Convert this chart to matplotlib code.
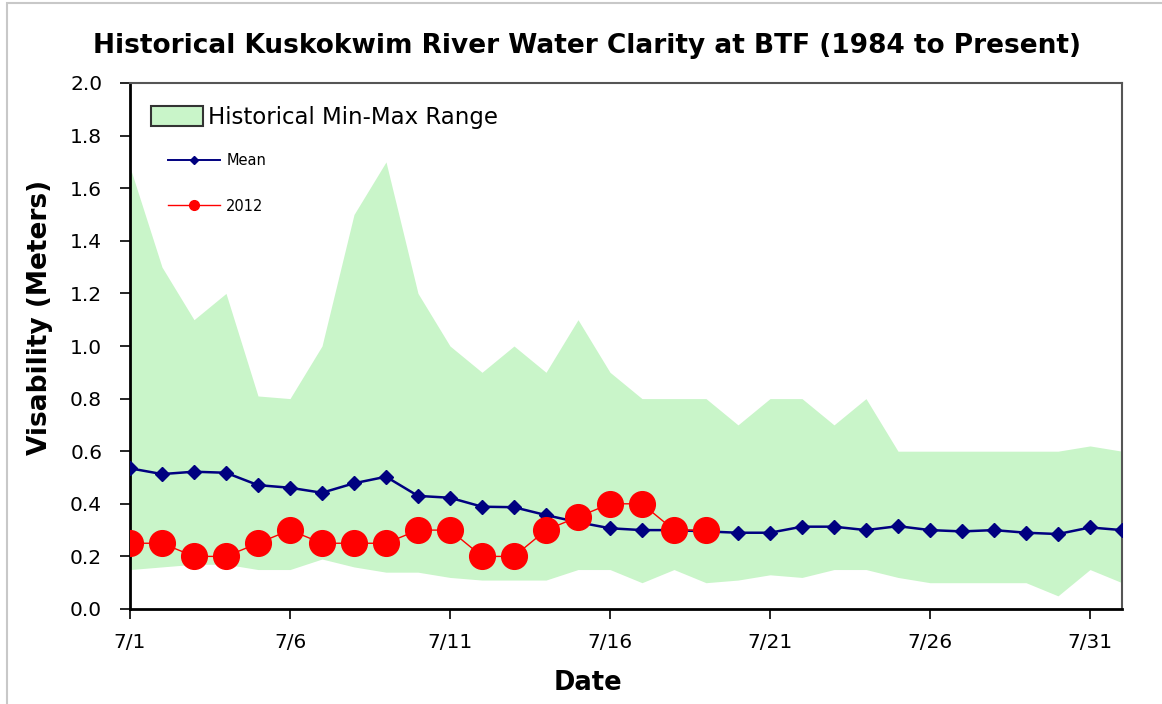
import matplotlib
matplotlib.use("Agg")
import matplotlib.pyplot as plt
from matplotlib.patches import Patch, Rectangle
from matplotlib.lines import Line2D
import numpy as np

dates = ["7/%d" % d for d in range(1, 32)] + ["8/1"]
hist_max = [1.68, 1.30, 1.10, 1.20, 0.81, 0.80, 1.00, 1.50, 1.70, 1.20, 1.00, 0.90,
            1.00, 0.90, 1.10, 0.90, 0.80, 0.80, 0.80, 0.70, 0.80, 0.80, 0.70, 0.80,
            0.60, 0.60, 0.60, 0.60, 0.60, 0.60, 0.62, 0.60]
hist_min = [0.15, 0.16, 0.17, 0.17, 0.15, 0.15, 0.19, 0.16, 0.14, 0.14, 0.12, 0.11,
            0.11, 0.11, 0.15, 0.15, 0.10, 0.15, 0.10, 0.11, 0.13, 0.12, 0.15, 0.15,
            0.12, 0.10, 0.10, 0.10, 0.10, 0.05, 0.15, 0.10]
mean_vals = [0.535, 0.513, 0.522, 0.518, 0.471, 0.461, 0.442, 0.478, 0.503, 0.430,
             0.423, 0.389, 0.387, 0.357, 0.330, 0.307, 0.300, 0.300, 0.295, 0.290,
             0.290, 0.313, 0.313, 0.300, 0.315, 0.300, 0.295, 0.300, 0.290, 0.285,
             0.310, 0.300]
y2012 = [0.25, 0.25, 0.20, 0.20, 0.25, 0.30, 0.25, 0.25, 0.25, 0.30, 0.30, 0.20,
         0.20, 0.30, 0.35, 0.40, 0.40, 0.30, 0.30]
tick_labels = ["7/1", "7/6", "7/11", "7/16", "7/21", "7/26", "7/31"]
y_ticks = [0.0, 0.2, 0.4, 0.6, 0.8, 1.0, 1.2, 1.4, 1.6, 1.8, 2.0]

x = np.arange(len(dates))
x12 = np.arange(len(y2012))

fig = plt.figure(figsize=(11.62, 7.04), dpi=100)
ax = fig.add_axes([130 / 1162, 1 - 609 / 704, (1122 - 130) / 1162, (609 - 83) / 704])

fill_color = "#c9f5c9"
ax.fill_between(x, hist_min, hist_max, color=fill_color, linewidth=0, zorder=1)
ax.plot(x, mean_vals, color="#000080", marker="D", markersize=7, linewidth=1.8, zorder=3)
ax.plot(x12, y2012, color="#ff0000", marker="o", markersize=18.5, markeredgewidth=1,
        linewidth=1.0, zorder=4)

ax.set_xlim(0, len(dates) - 1)
ax.set_ylim(0, 2.0)
tick_pos = [dates.index(t) for t in tick_labels]
ax.set_xticks(tick_pos)
ax.set_xticklabels(tick_labels, fontsize=14.5)
ax.set_yticks(y_ticks)
ax.set_yticklabels(["%.1f" % v for v in y_ticks], fontsize=14.5)
ax.tick_params(axis="both", direction="out", length=7, width=1.2, color="black")
ax.tick_params(axis="x", pad=10)
ax.tick_params(axis="y", pad=13)

for side in ["left", "bottom"]:
    ax.spines[side].set_linewidth(2.0)
    ax.spines[side].set_color("black")
for side in ["top", "right"]:
    ax.spines[side].set_linewidth(1.5)
    ax.spines[side].set_color("#555555")

ax.set_xlabel("Date", fontsize=18.5, fontweight="bold")
ax.xaxis.set_label_coords((588 - 130) / 992, (609 - 670) / 526)
ax.set_ylabel("Visability (Meters)", fontsize=19, fontweight="bold")
ax.yaxis.set_label_coords((53 - 130) / 992, (609 - 317) / 526)
fig.suptitle("Historical Kuskokwim River Water Clarity at BTF (1984 to Present)",
             fontsize=19, fontweight="bold", x=587 / 1162, y=1 - 46 / 704, va="center")

leg1 = ax.legend(handles=[Patch(facecolor=fill_color, edgecolor="#333333", linewidth=1.5,
                                label="Historical Min-Max Range")],
                 loc="upper left", bbox_to_anchor=(0.0, 0.996), frameon=False,
                 fontsize=16.5, handlelength=2.3, handleheight=1.0, handletextpad=0.2)
ax.add_artist(leg1)
ax.legend(handles=[Line2D([], [], color="#000080", marker="D", markersize=4, linewidth=1.4, label="Mean"),
                   Line2D([], [], color="#ff0000", marker="o", markersize=7, linewidth=1.0, label="2012")],
          loc="upper left", bbox_to_anchor=(0.025, 0.892), frameon=False,
          fontsize=10.5, handlelength=3.6, labelspacing=2.1, handletextpad=0.4)

fig.add_artist(Rectangle((7 / 1162, -0.1), 1.2, 1 - 3 / 704 + 0.1, transform=fig.transFigure,
                         fill=False, edgecolor="#c8c8c8", linewidth=1.5))

fig.savefig("out.png", dpi=100)
